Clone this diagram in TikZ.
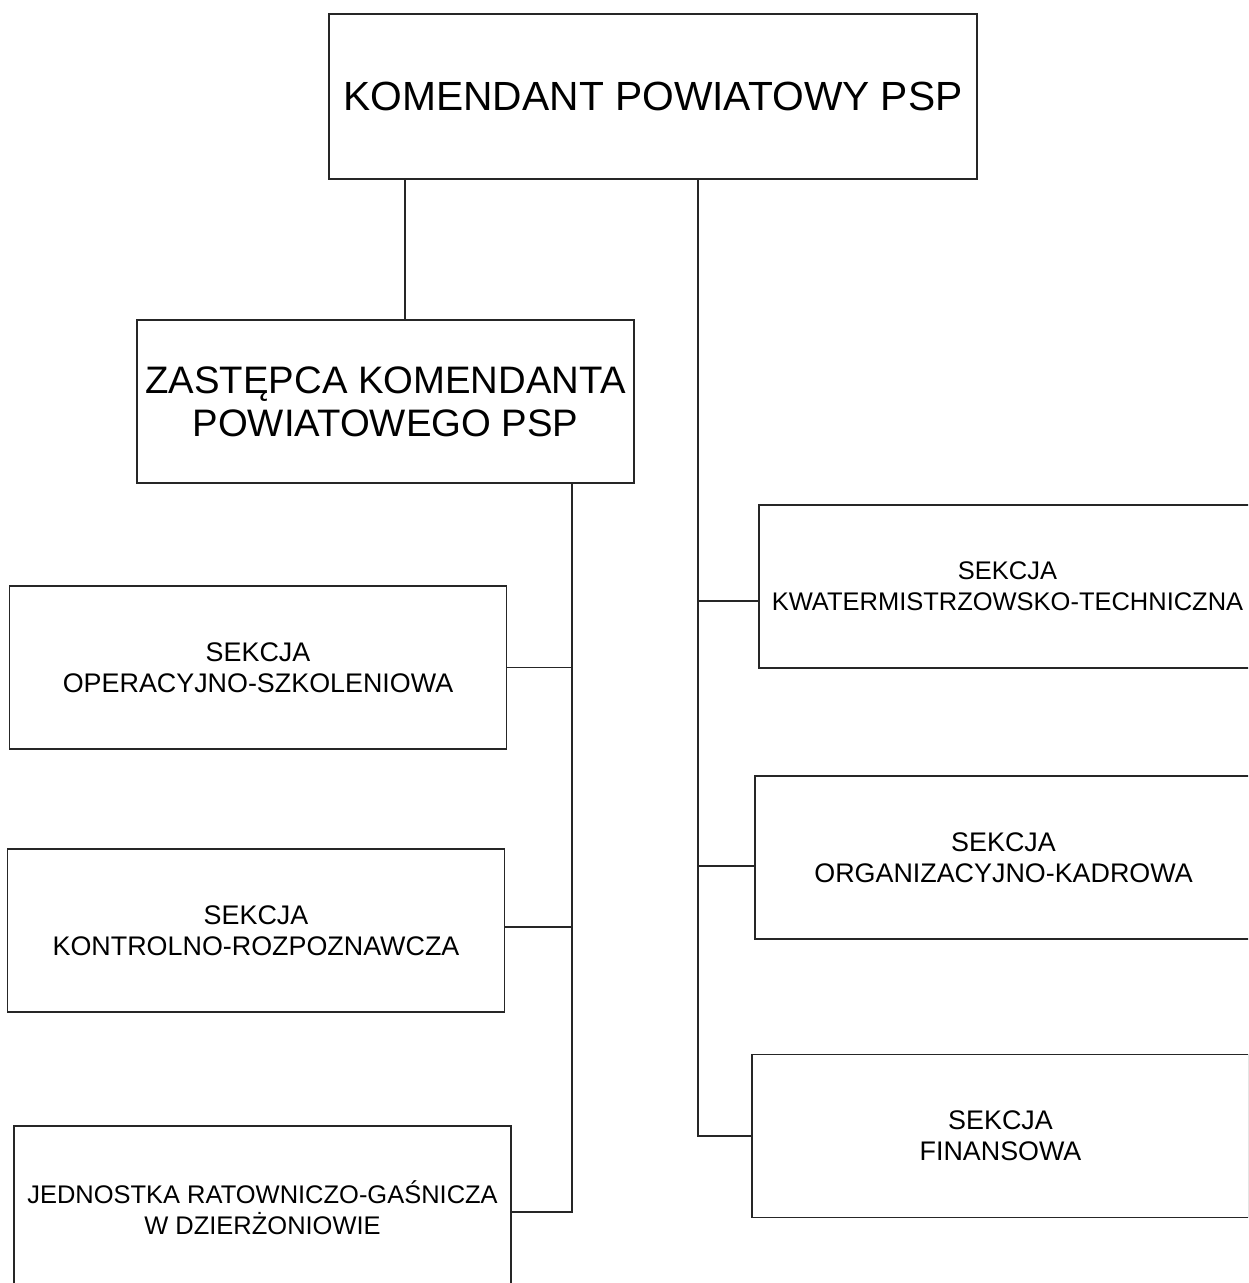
\documentclass[tikz,border=0pt]{standalone}
\usepackage{fontspec}
\setmainfont{Liberation Sans}
\usetikzlibrary{positioning}

\tikzset{
  box/.style={draw=black!85, line width=0.9pt, align=center, inner sep=0pt,
    minimum width=9.94cm, minimum height=3.26cm,
    font=\fontsize{15.3}{17.6}\selectfont},
  narrow/.style={font=\fontsize{14.5}{17.6}\selectfont},
  link/.style={draw=black!85, line width=0.8pt},
}

\begin{document}
\begin{tikzpicture}[x=0.02cm, y=-0.02cm]
\clip (0,0) rectangle (1248,1283);
\fill[white] (0,0) rectangle (1248,1283);

% top of the chart
\node[box, minimum width=12.96cm, minimum height=3.3cm,
  font=\fontsize{23.2}{28}\selectfont] (komendant) at (653,96.5) {KOMENDANT POWIATOWY PSP};
\node[box, font=\fontsize{21.8}{24.4}\selectfont] (zastepca) at (385.5,401.5)
  {ZASTĘPCA KOMENDANTA\\POWIATOWEGO PSP};

% left column
\node[box] (operacyjna) at (258,667.5) {SEKCJA\\OPERACYJNO-SZKOLENIOWA};
\node[box] (kontrolna) at (256,930.5) {SEKCJA\\KONTROLNO-ROZPOZNAWCZA};
\node[box, narrow] (jednostka) at (262.5,1207.5) {JEDNOSTKA RATOWNICZO-GAŚNICZA\\W DZIERŻONIOWIE};

% right column
\node[box, narrow] (kwatermistrz) at (1007.5,586.5) {SEKCJA\\KWATERMISTRZOWSKO-TECHNICZNA};
\node[box] (kadrowa) at (1003.5,857.5) {SEKCJA\\ORGANIZACYJNO-KADROWA};
\node[box] (finansowa) at (1000.5,1136) {SEKCJA\\FINANSOWA};

% trunks
\coordinate (trunkL) at (572,0);
\coordinate (trunkR) at (698,0);
\coordinate (kwin) at ([yshift=-0.29cm]kwatermistrz.west);
\coordinate (kdin) at ([yshift=-0.17cm]kadrowa.west);
\coordinate (krout) at ([yshift=0.07cm]kontrolna.east);
\coordinate (jrgin) at ([yshift=-0.09cm]jednostka.east);

\draw[link] ([xshift=0.39cm]zastepca.north) -- ([xshift=0.39cm]zastepca.north |- komendant.south);
\draw[link] (komendant.south -| trunkR) -- (trunkR |- finansowa.west) -- (finansowa.west);
\draw[link] (kwin) -- (kwin -| trunkR);
\draw[link] (kdin) -- (kdin -| trunkR);

\draw[link] (zastepca.south -| trunkL) -- (trunkL |- jrgin) -- (jrgin);
\draw[link] (operacyjna.east) -- (operacyjna.east -| trunkL);
\draw[link] (krout) -- (krout -| trunkL);
\end{tikzpicture}
\end{document}
